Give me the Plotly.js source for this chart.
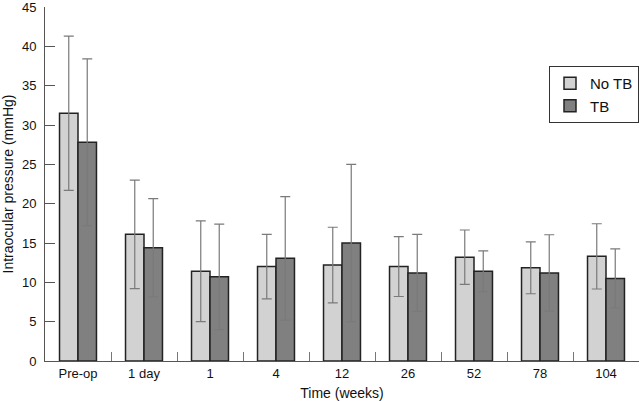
<!DOCTYPE html>
<html><head><meta charset="utf-8">
<script src="https://cdn.plot.ly/plotly-3.0.1.min.js"></script>
<style>html,body{margin:0;padding:0;background:#fff}#chart{width:640px;height:401px}</style>
</head><body><div id="chart"></div>
<script>
const categories = ["Pre-op","1 day","1","4","12","26","52","78","104"];
const noTB = [31.5, 16.1, 11.4, 12.0, 12.2, 12.0, 13.2, 11.85, 13.3];
const noTBerr = [9.8, 6.9, 6.4, 4.1, 4.8, 3.8, 3.45, 3.3, 4.15];
const tb = [27.8, 14.4, 10.7, 13.05, 15.0, 11.2, 11.4, 11.2, 10.5];
const tbErr = [10.6, 6.25, 6.7, 7.85, 10.0, 4.9, 2.6, 4.85, 3.75];
const yTicks = [0,5,10,15,20,25,30,35,40,45];

const errStyle = {type:'data', visible:true, color:'#7a7a7a', thickness:1.2, width:5};
const data = [
  {type:'bar', name:'No TB', x:categories, y:noTB,
   error_y:Object.assign({array:noTBerr}, errStyle),
   marker:{color:'#d2d2d2', line:{color:'#222', width:1.5}}},
  {type:'bar', name:'TB', x:categories, y:tb,
   error_y:Object.assign({array:tbErr}, errStyle),
   marker:{color:'#808080', line:{color:'#222', width:1.5}}}
];
const layout = {
  width:640, height:401,
  margin:{l:45, r:1, t:7, b:40},
  paper_bgcolor:'#fff', plot_bgcolor:'#fff',
  font:{family:'Liberation Sans, Arial, sans-serif', size:13, color:'#111'},
  barmode:'group', bargap:0.44, bargroupgap:0,
  showlegend:true,
  legend:{x:1, y:0.833, xanchor:'right', yanchor:'top', bordercolor:'#333', borderwidth:1,
          font:{size:15}, bgcolor:'#fff', tracegroupgap:0},
  xaxis:{type:'category', showline:true, linecolor:'#555', linewidth:1, automargin:false,
         ticks:'inside', tickson:'boundaries', ticklen:9, tickcolor:'#777', tickwidth:1,
         showgrid:false, zeroline:false,
         title:{text:'Time (weeks)', font:{size:14}, standoff:8}},
  yaxis:{range:[0,45], tickmode:'array', tickvals:yTicks, ticktext:yTicks.map(String),
         showline:true, linecolor:'#555', linewidth:1, ticklabelstandoff:5, automargin:false,
         ticklabeloverflow:'allow',
         ticks:'inside', ticklen:10, tickcolor:'#555', showgrid:false, zeroline:false,
         title:{text:'Intraocular pressure (mmHg)', font:{size:14}, standoff:10}}
};
Plotly.newPlot('chart', data, layout, {displayModeBar:false, staticPlot:true});
</script></body></html>
